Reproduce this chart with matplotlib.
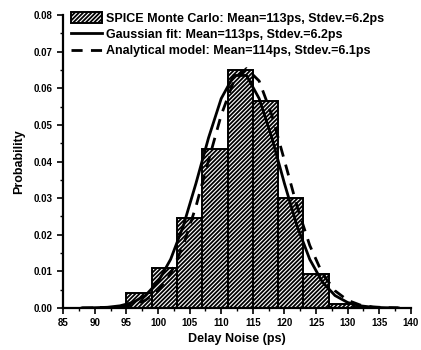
import matplotlib.pyplot as plt
import numpy as np

plt.rcParams['font.family'] = ['Liberation Sans', 'DejaVu Sans']
plt.rcParams['font.weight'] = 'bold'
plt.rcParams['hatch.linewidth'] = 1.3

# histogram: bin edges and probabilities (SPICE Monte Carlo)
bin_left = [91, 95, 99, 103, 107, 111, 115, 119, 123, 127, 131]
bin_prob = [0.0004, 0.0041, 0.0110, 0.0245, 0.0435, 0.0650, 0.0565, 0.0300, 0.0092, 0.0012, 0.0004]
bin_w = 4

# Gaussian fit curve (solid)
fit_x = [88, 90, 92, 94, 96, 98, 100, 102, 104, 106, 108, 110, 112,
         114, 116, 118, 120, 122, 124, 126, 128, 130, 132, 134, 136, 138]
fit_y = [0.00002, 0.00007, 0.0002, 0.0006, 0.0015, 0.0034, 0.0071, 0.0133, 0.0224,
         0.0340, 0.0465, 0.0572, 0.0635, 0.0635, 0.0572, 0.0465, 0.0340, 0.0224,
         0.0133, 0.0071, 0.0034, 0.0015, 0.0006, 0.0002, 0.00007, 0.00002]

# analytical model curve (dashed)
mod_x = fit_x
mod_y = [0.00001, 0.00003, 0.0001, 0.0003, 0.0008, 0.0021, 0.0047, 0.0094, 0.0171,
         0.0277, 0.0403, 0.0527, 0.0620, 0.0654, 0.0620, 0.0527, 0.0403, 0.0277,
         0.0171, 0.0094, 0.0047, 0.0021, 0.0008, 0.0003, 0.0001, 0.00003]

fig = plt.figure(figsize=(4.21, 3.5), dpi=100)
ax = fig.add_axes([0.150, 0.120, 0.826, 0.837])

b = ax.bar(bin_left, bin_prob, width=bin_w, align='edge', color='white',
           edgecolor='black', hatch='////////', linewidth=1.4,
           label='SPICE Monte Carlo: Mean=113ps, Stdev.=6.2ps')
l1, = ax.plot(fit_x, fit_y, color='black', linewidth=2.0,
              label='Gaussian fit: Mean=113ps, Stdev.=6.2ps')
l2, = ax.plot(mod_x, mod_y, color='black', linewidth=2.0, linestyle=(0, (4, 3)),
              label='Analytical model: Mean=114ps, Stdev.=6.1ps')

ax.set_xlim(85, 140)
ax.set_ylim(0, 0.08)
ax.set_xticks(np.arange(85, 141, 5))
ax.set_xticks(np.arange(85, 141, 2.5), minor=True)
ax.set_yticks(np.arange(0, 0.081, 0.01))
ax.set_yticks(np.arange(0, 0.081, 0.005), minor=True)
ax.set_yticklabels(['%.2f' % v for v in np.arange(0, 0.081, 0.01)])

for s in ['top', 'right']:
    ax.spines[s].set_visible(False)
ax.spines['left'].set_linewidth(1.6)
ax.spines['bottom'].set_linewidth(1.6)
ax.tick_params(which='major', direction='out', length=4, width=1.2, labelsize=7)
ax.tick_params(which='minor', direction='out', length=2, width=1.0)

ax.set_xlabel('Delay Noise (ps)', fontsize=9, fontweight='bold', labelpad=3)
ax.set_ylabel('Probability', fontsize=9, fontweight='bold', labelpad=6)

ax.legend([b, l1, l2], [b.get_label(), l1.get_label(), l2.get_label()],
          loc='upper left', bbox_to_anchor=(0.0, 1.035), frameon=False,
          fontsize=9, handlelength=2.5, handleheight=0.9, labelspacing=0.3,
          handletextpad=0.3, borderaxespad=0.2)

plt.savefig('out.png', dpi=100)
